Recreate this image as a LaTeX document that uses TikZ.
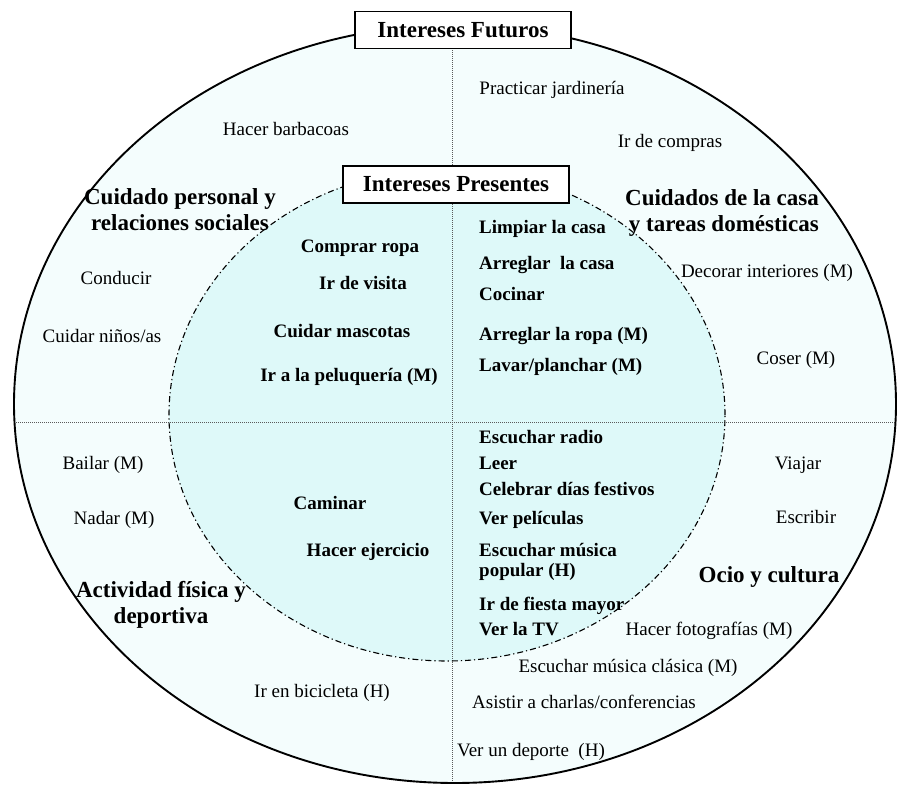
\documentclass[tikz,border=0pt]{standalone}
\usepackage{fontspec}
\setmainfont{Liberation Serif}
\definecolor{outerfill}{RGB}{244,253,253}
\definecolor{innerfill}{RGB}{222,249,249}
\definecolor{divgray}{RGB}{90,90,90}
\begin{document}
\begin{tikzpicture}[x=1pt,y=-1pt,
  txt/.style={font=\fontsize{19}{21}\selectfont, inner sep=0pt, text height=13pt, text depth=4pt},
  btxt/.style={font=\fontsize{19}{21}\selectfont\bfseries, inner sep=0pt, text height=13pt, text depth=4pt},
  lbtxt/.style={btxt, anchor=west},
  head/.style={font=\fontsize{23}{26}\selectfont\bfseries, align=center, inner sep=0pt},
  titlebox/.style={draw, line width=1.2pt, fill=white, font=\fontsize{23}{26}\selectfont\bfseries, inner sep=0pt, minimum height=37pt},
  divider/.style={divgray, line width=0.8pt, dash pattern=on 1pt off 1pt},
  innerline/.style={black, line width=1.1pt, dash pattern=on 6pt off 3pt on 1.2pt off 3pt},
  outerline/.style={black, line width=1.9pt}]
\useasboundingbox (0,0) rectangle (903,787);
% fills
\fill[outerfill] (455,404) ellipse [x radius=441pt, y radius=379pt];
\fill[innerfill] (447,415) ellipse [x radius=278pt, y radius=246pt];
% dividers
\coordinate (vt) at (452,40);
\coordinate (vb) at (452,790);
\coordinate (hl) at (0,422);
\coordinate (hr) at (903,422);
\begin{scope}
  \clip (455,404) ellipse [x radius=441pt, y radius=379pt];
  \draw[divider] (vt) -- (vb);
  \draw[divider] (hl) -- (hr);
\end{scope}
% circles
\draw[innerline] (447,415) ellipse [x radius=278pt, y radius=246pt];
\draw[outerline] (455,404) ellipse [x radius=441pt, y radius=379pt];
% title boxes
\node[titlebox, minimum width=216pt] (fut) at (463,30) {Intereses Futuros};
\node[titlebox, minimum width=226pt] (pres) at (456,184.5) {Intereses Presentes};
% category headings
\node[head] (h1) at (180,210) {Cuidado personal y\\relaciones sociales};
\node[head, align=right] (h2) at (722,213) {Cuidados de la casa\\y tareas domésticas};
\node[head] (h3) at (161,605) {Actividad física y\\deportiva};
\node[head] (h4) at (769,577) {Ocio y cultura};
% future interests (outer ring)
\node[txt] (f1) at (286,131) {Hacer barbacoas};
\node[txt] (f2) at (116,280) {Conducir};
\node[txt] (f3) at (102,338) {Cuidar niños/as};
\node[txt] (f4) at (552,90) {Practicar jardinería};
\node[txt] (f5) at (670,143) {Ir de compras};
\node[txt] (f6) at (767,273) {Decorar interiores (M)};
\node[txt] (f7) at (796,360) {Coser (M)};
\node[txt] (f8) at (103,465) {Bailar (M)};
\node[txt] (f9) at (114,520) {Nadar (M)};
\node[txt] (f10) at (322,693) {Ir en bicicleta (H)};
\node[txt] (f11) at (798,465) {Viajar};
\node[txt] (f12) at (806,519) {Escribir};
\node[txt] (f13) at (709,631) {Hacer fotografías (M)};
\node[txt] (f14) at (628,668) {Escuchar música clásica (M)};
\node[txt] (f15) at (584,704) {Asistir a charlas/conferencias};
\node[txt] (f16) at (531,752) {Ver un deporte~~(H)};
% present interests (inner circle)
\node[btxt] (p1) at (360,248) {Comprar ropa};
\node[btxt] (p2) at (363,285) {Ir de visita};
\node[btxt] (p3) at (342,333) {Cuidar mascotas};
\node[btxt] (p4) at (349,377) {Ir a la peluquería (M)};
\node[lbtxt] (p5) at (479,229) {Limpiar la casa};
\node[lbtxt] (p6) at (479,265) {Arreglar~ la casa};
\node[lbtxt] (p7) at (479,296) {Cocinar};
\node[lbtxt] (p8) at (479,336) {Arreglar la ropa (M)};
\node[lbtxt] (p9) at (479,367) {Lavar/planchar (M)};
\node[btxt] (p10) at (330,505) {Caminar};
\node[btxt] (p11) at (368,552) {Hacer ejercicio};
\node[lbtxt] (p12) at (479,439) {Escuchar radio};
\node[lbtxt] (p13) at (479,465) {Leer};
\node[lbtxt] (p14) at (479,491) {Celebrar días festivos};
\node[lbtxt] (p15) at (479,520) {Ver películas};
\node[lbtxt] (p16) at (479,552) {Escuchar música};
\node[lbtxt] (p17) at (479,572) {popular (H)};
\node[lbtxt] (p18) at (479,606) {Ir de fiesta mayor};
\node[lbtxt] (p19) at (479,631) {Ver la TV};
\end{tikzpicture}
\end{document}
